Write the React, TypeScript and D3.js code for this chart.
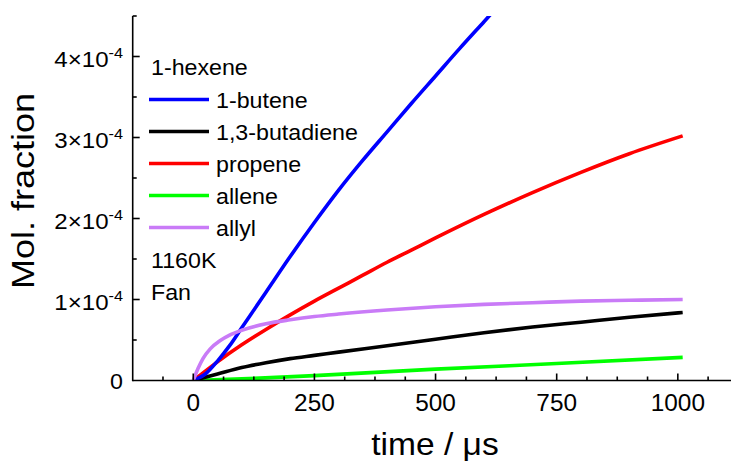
import React from "react";
import * as d3 from "d3";
import { useEffect, useRef } from "react";

// values, in units of 1e-4 mole fraction
const butT = [0, 25, 50, 75, 100, 150, 200, 250, 300, 350, 400, 450, 500, 550, 600, 650];
const butV = [0, 0.08, 0.24, 0.43, 0.65, 1.09, 1.53, 1.95, 2.35, 2.72, 3.07, 3.42, 3.76, 4.1, 4.43, 4.76];

const butadT = [0, 50, 100, 150, 200, 250, 300, 400, 500, 600, 700, 800, 900, 1010];
const butadV = [0, 0.08, 0.16, 0.22, 0.27, 0.31, 0.35, 0.43, 0.51, 0.59, 0.66, 0.72, 0.78, 0.84];

const propT = [0, 50, 100, 150, 200, 250, 300, 350, 400, 450, 500, 600, 700, 800, 900, 1010];
const propV = [0, 0.23, 0.44, 0.63, 0.81, 0.98, 1.14, 1.3, 1.46, 1.61, 1.76, 2.05, 2.32, 2.57, 2.8, 3.02];

const alleneT = [0, 100, 250, 500, 750, 1010];
const alleneV = [0, 0.02, 0.06, 0.14, 0.21, 0.285];

const allylT = [0, 10, 20, 35, 55, 75, 100, 150, 200, 250, 300, 400, 500, 600, 700, 800, 900, 1010];
const allylV = [0, 0.15, 0.27, 0.39, 0.49, 0.56, 0.62, 0.7, 0.75, 0.79, 0.82, 0.87, 0.91, 0.94, 0.96, 0.98, 0.99, 1.0];

const seriesNames = ["1-butene", "1,3-butadiene", "propene", "allene", "allyl"];
const seriesColors = ["#0000ff", "#000000", "#ff0000", "#00ff00", "#c97bf7"];
const seriesT = [butT, butadT, propT, alleneT, allylT];
const seriesV = [butV, butadV, propV, alleneV, allylV];

const xMajor = [0, 250, 500, 750, 1000];
const yMajor = [0, 1, 2, 3, 4];

const W = 731;
const H = 461;
const font = "'Liberation Sans', Arial, sans-serif";

// text is a bit wider in the original than Liberation Sans at the same height
function label(parent, x, y, str, size, sx, anchor = "start", rot = 0) {
  const g = parent
    .append("g")
    .attr("transform", `translate(${x},${y}) rotate(${rot}) scale(${sx},1)`);
  return g
    .append("text")
    .attr("text-anchor", anchor)
    .attr("font-family", font)
    .attr("font-size", size)
    .text(str);
}

const App = () => {
  const ref = useRef(null);

  useEffect(() => {
    const svg = d3.select(ref.current);
    svg.selectAll("*").remove();

    const x = d3.scaleLinear().domain([-125, 1125]).range([132.7, 738.4]);
    const y = d3.scaleLinear().domain([0, 4.5]).range([380.5, 16]);

    svg
      .append("defs")
      .append("clipPath")
      .attr("id", "plotclip")
      .append("rect")
      .attr("x", x(-125))
      .attr("y", y(4.5))
      .attr("width", x(1125) - x(-125))
      .attr("height", y(0) - y(4.5));

    // curves
    const line = d3
      .line()
      .x((d) => x(d[0]))
      .y((d) => y(d[1]))
      .curve(d3.curveMonotoneX);

    const g = svg.append("g").attr("clip-path", "url(#plotclip)");
    [3, 1, 2, 0, 4].forEach((i) => {
      const pts = seriesT[i].map((t, j) => [t, seriesV[i][j]]);
      g.append("path")
        .attr("d", line(pts))
        .attr("fill", "none")
        .attr("stroke", seriesColors[i])
        .attr("stroke-width", 3.6)
        .attr("stroke-linejoin", "round");
    });

    // axes
    const ax = svg.append("g").attr("stroke", "#000").attr("stroke-width", 1.6);
    ax.append("line").attr("x1", x(-125)).attr("x2", x(1125)).attr("y1", y(0)).attr("y2", y(0));
    ax.append("line").attr("x1", x(-125)).attr("x2", x(-125)).attr("y1", y(0) + 0.8).attr("y2", y(4.5));

    d3.range(-62.5, 1125, 62.5).forEach((t) => {
      const major = xMajor.includes(t);
      ax.append("line")
        .attr("x1", x(t)).attr("x2", x(t))
        .attr("y1", y(0)).attr("y2", y(0) - (major ? 7 : 4));
    });
    d3.range(0.5, 4.51, 0.5).forEach((v) => {
      const major = yMajor.includes(v);
      ax.append("line")
        .attr("x1", x(-125)).attr("x2", x(-125) + (major ? 7 : 4))
        .attr("y1", y(v)).attr("y2", y(v));
    });

    // tick labels
    xMajor.forEach((t) => label(svg, x(t), 411, String(t), 23, 1.06, "middle"));

    yMajor.forEach((v) => {
      if (v === 0) {
        label(svg, 123, y(v) + 8, "0", 21.5, 1.08, "end");
      } else {
        const t = label(svg, 123, y(v) + 10, "", 21.5, 1.12, "end");
        t.append("tspan").text(v + "\u00d710");
        t.append("tspan").attr("dy", -9).attr("font-size", 14.5).text("-4");
      }
    });

    // axis titles
    label(svg, 435, 455, "time / \u03bcs", 30.5, 1.1, "middle");
    label(svg, 34, 191, "Mol. fraction", 30.5, 1.18, "middle", -90);

    // legend
    const lg = svg.append("g");
    label(lg, 151, 75, "1-hexene", 21.5, 1.08);
    seriesNames.forEach((name, i) => {
      const ly = 99.5 + i * 32;
      lg.append("line")
        .attr("x1", 149).attr("x2", 209)
        .attr("y1", ly).attr("y2", ly)
        .attr("stroke", seriesColors[i])
        .attr("stroke-width", 3.6);
      label(lg, 216, ly + 8.5, name, 21.5, 1.08);
    });
    label(lg, 151, 268, "1160K", 21.5, 1.08);
    label(lg, 151, 300, "Fan", 21.5, 1.08);
  });

  return (
    <svg
      ref={ref}
      width={W}
      height={H}
      style={{ position: "absolute", left: 0, top: 0, background: "#fff", overflow: "hidden" }}
    ></svg>
  );
};

export default App;
